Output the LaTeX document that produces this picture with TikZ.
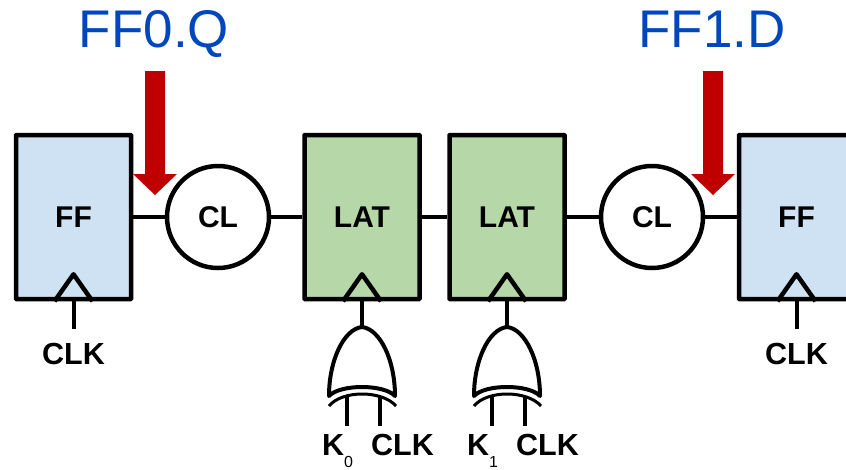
\documentclass[tikz,border=0pt]{standalone}
\usepackage{fontspec}
\setmainfont{Liberation Sans}
\usetikzlibrary{calc,positioning}
\definecolor{ffblue}{RGB}{207,226,243}
\definecolor{latgreen}{RGB}{182,215,168}
\definecolor{probered}{RGB}{192,0,0}
\definecolor{probeblue}{RGB}{0,71,187}
\tikzset{
  block/.style={draw=black,line width=4.5pt,rounded corners=0.5pt,minimum width=115pt,minimum height=164pt,inner sep=0pt,font=\fontsize{30}{30}\selectfont\bfseries},
  ffblock/.style={block,fill=ffblue},
  latblock/.style={block,fill=latgreen},
  logic/.style={circle,draw=black,fill=white,line width=4.5pt,minimum size=102pt,inner sep=0pt,font=\fontsize{30}{30}\selectfont\bfseries},
  wire/.style={black,line width=4pt},
  sig/.style={inner sep=0pt,font=\fontsize{30.5}{30.5}\selectfont\bfseries},
  probe/.style={inner sep=0pt,text=probeblue,font=\fontsize{53}{53}\selectfont}
}
\begin{document}
\begin{tikzpicture}[x=1pt,y=-1pt]
      \useasboundingbox (0,0) rectangle (846,469);
      \clip (0,0) rectangle (846,469);
      \def\ymid{217}  % height of the data path
      % data path
      \node[ffblock] (ff0) at (73.5,\ymid) {FF};
      \node[logic] (cl0) at (218,\ymid) {CL};
      \node[latblock] (lat0) at (362,\ymid) {LAT};
      \node[latblock] (lat1) at (507,\ymid) {LAT};
      \node[logic] (cl1) at (652,\ymid) {CL};
      \node[ffblock] (ff1) at (796.5,\ymid) {FF};
      \draw[wire] (ff0.east) -- (cl0.west);
      \draw[wire] (cl0.east) -- (lat0.west);
      \draw[wire] (lat0.east) -- (lat1.west);
      \draw[wire] (lat1.east) -- (cl1.west);
      \draw[wire] (cl1.east) -- (ff1.west);
      % clock triangles
      \foreach \N in {ff0,lat0,lat1,ff1} {%
        \draw[black,line width=4.5pt,line join=round] ($(\N.south)+(-19,0)$) -- ($(\N.south)+(0,-27)$) -- ($(\N.south)+(19,0)$);
      }
      % flip-flop clocks
      \foreach \N in {ff0,ff1} {%
        \coordinate (\N clk) at ($(\N.south)+(0,28)$);
        \draw[wire] (\N.south) -- (\N clk);
        \node[sig] (\N label) at ($(\N clk)+(0,25)$) {CLK};
      }
      % gates in front of the latches
      \foreach \N/\K/\X in {lat0/0/362,lat1/1/507} {%
        \begin{scope}[xshift=\X pt]
          \coordinate (gate\K) at (0,327);
          \draw[wire] (\N.south) -- (gate\K);
          \draw[black,line width=4pt,line join=round,fill=white] (gate\K) .. controls (18,329) and (33,360) .. (33,396)
            .. controls (22,384) and (-22,384) .. (-33,396)
            .. controls (-33,360) and (-18,329) .. (gate\K) -- cycle;
          \draw[black,line width=3pt] (-33,406) .. controls (-20,390) and (20,390) .. (34,406);
          \coordinate (in\K a) at (-15,426);
          \coordinate (in\K b) at (18,426);
          \draw[wire] (-15,397) -- (in\K a);
          \draw[wire] (18,397) -- (in\K b);
          \node[sig,anchor=base west] (k\K) at (-40,455) {K\raisebox{-12pt}{\fontsize{16}{16}\selectfont\mdseries\K}};
          \node[sig,anchor=base] (clk\K) at (40.5,455) {CLK};
        \end{scope}
      }
      % probes
      \foreach \X/\T in {155/FF0.Q,713/FF1.D} {%
        \fill[probered] (\X-10,71) -- (\X+10,71) -- (\X+10,174) -- (\X+22,174) -- (\X,195) -- (\X-22,174) -- (\X-10,174) -- cycle;
        \node[probe,anchor=base] (probe\X) at (\X-1,47) {\T};
      }
\end{tikzpicture}
\end{document}
